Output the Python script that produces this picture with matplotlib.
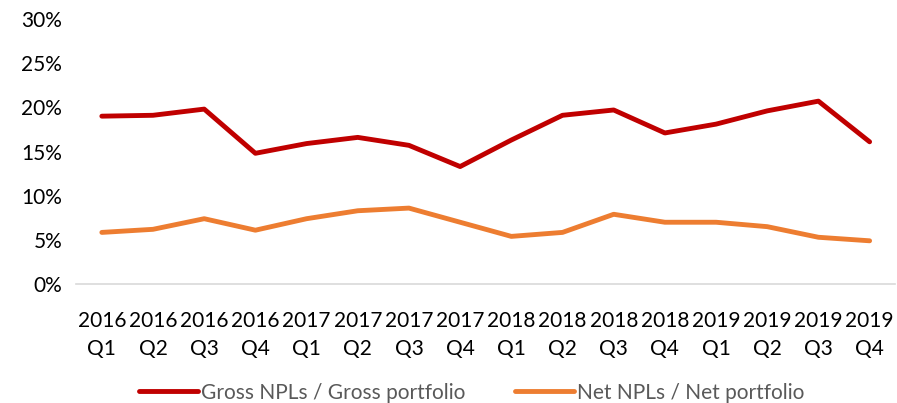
import matplotlib
matplotlib.use("Agg")
import matplotlib.pyplot as plt
from matplotlib.ticker import FuncFormatter

quarters = ["2016\nQ1", "2016\nQ2", "2016\nQ3", "2016\nQ4",
            "2017\nQ1", "2017\nQ2", "2017\nQ3", "2017\nQ4",
            "2018\nQ1", "2018\nQ2", "2018\nQ3", "2018\nQ4",
            "2019\nQ1", "2019\nQ2", "2019\nQ3", "2019\nQ4"]
gross = [19.0, 19.1, 19.8, 14.8, 15.9, 16.6, 15.7, 13.3,
         16.3, 19.1, 19.7, 17.1, 18.1, 19.6, 20.7, 16.1]
net = [5.85, 6.2, 7.4, 6.1, 7.4, 8.3, 8.6, 7.0,
       5.4, 5.85, 7.9, 7.0, 7.0, 6.5, 5.3, 4.9]

plt.rcParams['font.family'] = ['Lato', 'DejaVu Sans']

fig = plt.figure(figsize=(8.97, 4.03), dpi=100)
ax = fig.add_axes([0.085, 0.295, 0.913, 0.658])
x = list(range(len(quarters)))
ax.plot(x, gross, color="#C00000", lw=3.5, solid_capstyle="round",
        solid_joinstyle="round", label="Gross NPLs / Gross portfolio")
ax.plot(x, net, color="#ED7D31", lw=3.5, solid_capstyle="round",
        solid_joinstyle="round", label="Net NPLs / Net portfolio")
ax.set_xlim(-0.5, len(quarters) - 0.5)
ax.set_ylim(0, 30)
ax.set_yticks([0, 5, 10, 15, 20, 25, 30])
ax.yaxis.set_major_formatter(FuncFormatter(lambda v, p: f"{v:.0f}%"))
ax.set_xticks(x)
ax.set_xticklabels(quarters, linespacing=1.55)
for s in ["top", "right", "left"]:
    ax.spines[s].set_visible(False)
ax.spines["bottom"].set_color("#D9D9D9")
ax.spines["bottom"].set_linewidth(1.2)
ax.tick_params(axis="both", length=0, labelsize=15, colors="#000000")
ax.tick_params(axis="x", pad=19)
ax.tick_params(axis="y", pad=10)
leg = fig.legend(loc="center", bbox_to_anchor=(0.526, 0.026), ncol=2,
                 frameon=False, fontsize=15, handlelength=2.8,
                 columnspacing=2.4, handletextpad=0.15)
for t in leg.get_texts():
    t.set_color("#595959")
fig.savefig("out.png", dpi=100)
